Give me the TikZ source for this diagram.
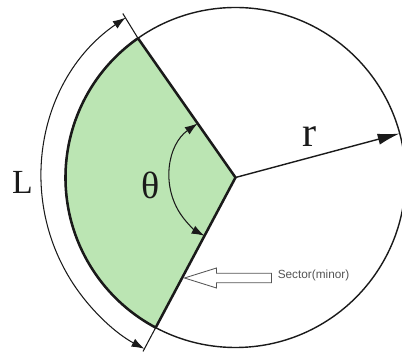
\documentclass[tikz,border=0pt]{standalone}
\usepackage{fontspec}
\setmainfont{Liberation Serif}
\setsansfont{Liberation Sans}
\usetikzlibrary{positioning, arrows.meta, calc}
\definecolor{ink}{HTML}{1a1a1a}
\definecolor{leaf}{HTML}{BBE5B3}
\definecolor{note}{HTML}{555555}

\begin{document}
\begin{tikzpicture}[x=0.025cm, y=0.025cm,
  rim/.style={draw=ink, line width=1pt},
  bound/.style={draw=ink, line width=1.8pt, line join=round},
  tick/.style={draw=ink, line width=0.75pt},
  dim/.style={ink, line width=0.75pt, {Latex[length=3.2mm,width=2.2mm]}-{Latex[length=3.2mm,width=2.2mm]}},
  arr/.style={-{Latex[length=5.5mm,width=2.8mm]}, line width=1pt, ink},
  hollow/.style={draw=note, line width=0.6pt, fill=white},
  sym/.style={inner sep=0pt, text=ink}
]
  \useasboundingbox (-235.5,-176.5) rectangle (166.5,177.5);

  \coordinate (O) at (0,0);
  \coordinate (A) at (125:170);
  \coordinate (B) at (242:170);
  \coordinate (R) at (15:170);
  \coordinate (At) at (124.5:199);
  \coordinate (Bt) at (242:197);
  \coordinate (La) at (124.5:194);
  \coordinate (Ta) at (125:66);
  \coordinate (tip) at (-51,-100.5);

  % sector
  \fill[leaf] (O) -- (A) arc[start angle=125, end angle=242, radius=170] -- cycle;
  \draw[rim] (O) circle[radius=170];
  \draw[bound] (O) -- (A) arc[start angle=125, end angle=242, radius=170] -- cycle;

  % arc length
  \draw[tick] (A) -- (At);
  \draw[tick] (B) -- (Bt);
  \draw[dim] (La) arc[start angle=124.5, end angle=242, radius=194];

  % angle and radius
  \draw[dim] (Ta) arc[start angle=125, end angle=242, radius=66];
  \draw[arr] (O) -- (R);

  \node[sym, font=\fontsize{30}{30}\selectfont] (rr) at (74.5,40.5) {r};
  \node[sym, font=\fontsize{27}{27}\selectfont] (th) at (-85,-8) {θ};
  \node[sym, font=\fontsize{24}{24}\selectfont] (ll) at (-213,-5) {L};

  % pointer
  \draw[hollow] (tip) -- ++(32,10) -- ++(0,-5.3) -- ++(55,0) -- ++(0,-9.4)
    -- ++(-55,0) -- ++(0,-5.3) -- cycle;
  \node[font=\sffamily\fontsize{8.4}{9}\selectfont, text=note, anchor=west,
    inner sep=0pt] (sec) at ($(tip)+(93,3)$) {Sector(minor)};
\end{tikzpicture}
\end{document}
